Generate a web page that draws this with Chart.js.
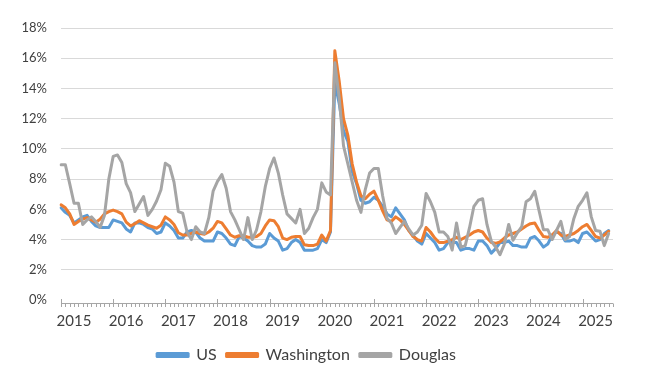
<!DOCTYPE html>
<html>
<head>
<meta charset="utf-8">
<script src="https://cdn.jsdelivr.net/npm/chart.js@4.4.1/dist/chart.umd.min.js"></script>
<style>
html,body{margin:0;padding:0;background:#ffffff;}
#wrap{width:650px;height:379px;position:relative;}
</style>
</head>
<body>
<div id="wrap"><canvas id="c" width="650" height="379"></canvas></div>
<script>
// ---- tick labels / categories ----
const years = ['2015','2016','2017','2018','2019','2020','2021','2022','2023','2024','2025'];
const axisMonths = 128; // monthly axis, Jan 2015 .. Aug 2025
const months = [];
for (let i = 0; i < axisMonths; i++) {
  const y = 2015 + Math.floor(i / 12);
  const m = (i % 12) + 1;
  months.push(y + '-' + String(m).padStart(2, '0'));
}
const seriesNames = ['US', 'Washington', 'Douglas'];

// ---- series values (% unemployment, monthly, Jan 2015 .. Jul 2025) ----
const us = [
  6.1, 5.8, 5.6, 5.1, 5.3, 5.5, 5.6, 5.2, 4.9, 4.8, 4.8, 4.8,
  5.3, 5.2, 5.1, 4.7, 4.5, 5.1, 5.1, 5.0, 4.8, 4.7, 4.4, 4.5,
  5.1, 4.9, 4.6, 4.1, 4.1, 4.5, 4.6, 4.5, 4.1, 3.9, 3.9, 3.9,
  4.5, 4.4, 4.1, 3.7, 3.6, 4.2, 4.1, 3.9, 3.6, 3.5, 3.5, 3.7,
  4.4, 4.1, 3.9, 3.3, 3.4, 3.8, 4.0, 3.8, 3.3, 3.3, 3.3, 3.4,
  4.0, 3.8, 4.5, 14.4, 13.0, 11.2, 10.5, 8.5, 7.7, 6.6, 6.4, 6.5,
  6.8, 6.6, 6.2, 5.7, 5.5, 6.1, 5.7, 5.3, 4.6, 4.3, 3.9, 3.7,
  4.4, 4.1, 3.8, 3.3, 3.4, 3.8, 3.8, 3.8, 3.3, 3.4, 3.4, 3.3,
  3.9, 3.9, 3.6, 3.1, 3.4, 3.8, 3.8, 3.9, 3.6, 3.6, 3.5, 3.5,
  4.1, 4.2, 3.9, 3.5, 3.7, 4.3, 4.5, 4.4, 3.9, 3.9, 4.0, 3.8,
  4.4, 4.5, 4.2, 3.9, 4.0, 4.4, 4.6
];
const washington = [
  6.3, 6.1, 5.7, 5.0, 5.2, 5.35, 5.45, 5.3, 5.15, 5.35, 5.7, 5.85,
  5.95, 5.85, 5.7, 5.15, 4.9, 5.05, 5.25, 5.1, 4.95, 4.85, 4.75, 4.95,
  5.5, 5.3, 5.0, 4.45, 4.3, 4.3, 4.4, 4.5, 4.4, 4.35, 4.5, 4.75,
  5.2, 5.1, 4.7, 4.3, 4.15, 4.25, 4.25, 4.15, 4.15, 4.2, 4.4, 4.9,
  5.3, 5.25, 4.85, 4.1, 4.0, 4.15, 4.2, 4.2, 3.65, 3.6, 3.6, 3.7,
  4.3, 3.9, 4.6, 16.5, 14.5, 12.0, 10.9, 9.0, 7.8, 6.9, 6.7, 7.0,
  7.2, 6.6, 5.9, 5.3, 5.2, 5.5, 5.3, 5.0, 4.6, 4.2, 4.0, 3.9,
  4.8, 4.5, 4.1, 3.8, 3.8, 3.9, 4.0, 4.15, 4.0, 4.15, 4.3, 4.5,
  4.6, 4.5, 4.1, 3.8, 3.75, 3.85, 4.1, 4.3, 4.4, 4.5, 4.7, 4.9,
  5.05, 5.1, 4.6, 4.2, 4.15, 4.3, 4.6, 4.3, 4.2, 4.3, 4.4, 4.6,
  4.85, 5.0, 4.6, 4.2, 4.1, 4.3, 4.55
];
const douglas = [
  8.95, 8.95, 7.7, 6.4, 6.4, 5.0, 5.3, 5.5, 5.2, 4.8, 5.6, 8.0,
  9.5, 9.6, 9.1, 7.7, 7.1, 5.85, 6.35, 6.85, 5.6, 6.0, 6.55, 7.3,
  9.05, 8.85, 7.8, 5.85, 5.75, 4.5, 4.0, 4.85, 4.5, 4.4, 5.45, 7.2,
  7.85, 8.3, 7.4, 5.85, 5.3, 4.65, 4.0, 5.45, 4.0, 4.65, 5.85, 7.5,
  8.7, 9.4, 8.4, 6.95, 5.7, 5.4, 5.1, 6.0, 4.4, 4.75, 5.45, 6.0,
  7.75, 7.15, 6.95, 15.7, 13.4, 10.2, 9.0, 7.8, 6.6, 5.8, 7.3, 8.4,
  8.7, 8.7, 6.9, 5.4, 5.1, 4.4, 4.8, 5.2, 4.7, 4.3, 4.5, 4.95,
  7.05, 6.5, 5.8, 4.5, 4.5, 4.2, 3.3, 5.1, 3.5, 3.6, 4.8, 6.2,
  6.6, 6.7, 5.0, 3.9, 3.5, 3.0, 3.7, 5.0, 3.95, 4.45, 4.85, 6.5,
  6.7, 7.2, 5.9, 4.65, 4.65, 4.0, 4.6, 5.2, 4.0, 4.2, 5.4, 6.2,
  6.6, 7.1, 5.5, 4.6, 4.55, 3.6, 4.4
];
const seriesColors = ['#5B9BD5', '#ED7D31', '#A5A5A5'];

// axis tick mark comb (minor every month, major every year) drawn from the x scale
const combPlugin = {
  id: 'comb',
  afterDraw(chart) {
    const sx = chart.scales.x;
    const ctx = chart.ctx;
    const base = chart.chartArea.bottom + 3.5;
    ctx.save();
    ctx.strokeStyle = '#a6a6a6';
    ctx.lineWidth = 1;
    ctx.beginPath();
    ctx.moveTo(sx.left, base);
    ctx.lineTo(sx.right, base);
    for (let i = 0; i < months.length; i++) {
      const px = Math.round(sx.getPixelForValue(i)) + 0.5;
      if (i % 12 === 0) {
        ctx.moveTo(px, base - 4.5);
        ctx.lineTo(px, base + 3.5);
      } else {
        ctx.moveTo(px, base);
        ctx.lineTo(px, base + 3.5);
      }
    }
    ctx.stroke();
    ctx.restore();
  }
};

const seriesData = [us, washington, douglas];
const datasets = seriesNames.map((name, k) => ({
  label: name,
  data: seriesData[k],
  borderColor: seriesColors[k],
  backgroundColor: seriesColors[k],
  borderWidth: 3,
  pointRadius: 0,
  pointHoverRadius: 0,
  tension: 0,
  fill: false,
  borderJoinStyle: 'round',
  borderCapStyle: 'round',
  order: 2 - k
}));

new Chart(document.getElementById('c'), {
  type: 'line',
  data: { labels: months, datasets: datasets },
  options: {
    responsive: false,
    animation: false,
    devicePixelRatio: 1,
    layout: { padding: { left: 0, right: 37, top: 28, bottom: 6 } },
    plugins: {
      legend: {
        position: 'bottom',
        labels: {
          boxWidth: 31,
          boxHeight: 3,
          padding: 10,
          color: '#404040',
          font: { family: 'Lato', size: 16 },
          sort: (a, b) => a.datasetIndex - b.datasetIndex
        }
      },
      tooltip: { enabled: false }
    },
    scales: {
      x: {
        type: 'category',
        offset: false,
        border: { display: false },
        grid: { display: false, drawTicks: false },
        ticks: {
          autoSkip: false,
          maxRotation: 0,
          minRotation: 0,
          padding: 12,
          labelOffset: 13,
          color: '#404040',
          font: { family: 'Lato', size: 15 },
          callback: function (value, index) {
            return index % 12 === 0 ? years[index / 12] : '';
          }
        },
        afterFit: function (scale) { scale.height = 37; }
      },
      y: {
        min: 0,
        max: 18,
        border: { display: false },
        grid: {
          drawTicks: false,
          color: (c) => (c.tick && c.tick.value === 0 ? 'rgba(0,0,0,0)' : '#d9d9d9'),
          lineWidth: 1
        },
        ticks: {
          stepSize: 2,
          padding: 14,
          color: '#404040',
          font: { family: 'Lato', size: 13 },
          callback: (v) => v + '%'
        },
        afterFit: function (scale) { scale.width = 61; }
      }
    }
  },
  plugins: [combPlugin]
});
</script>
</body>
</html>
